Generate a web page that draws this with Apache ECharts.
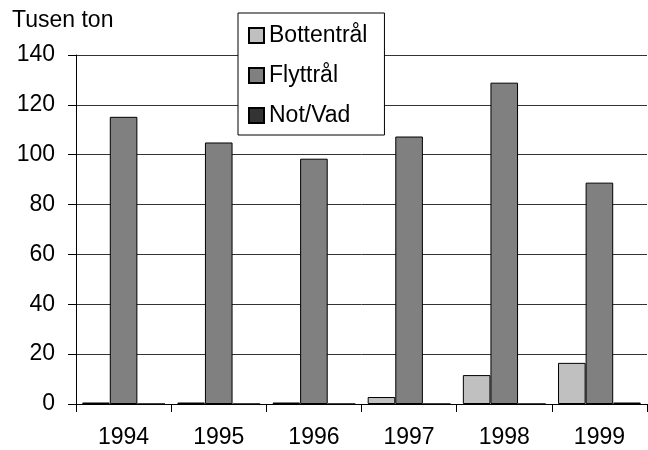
<!DOCTYPE html>
<html>
<head>
<meta charset="utf-8">
<script src="https://cdn.jsdelivr.net/npm/echarts@6/dist/echarts.min.js"></script>
<style>
  html, body { margin: 0; padding: 0; background: #fff; }
  #chart { width: 648px; height: 450px; }
</style>
</head>
<body>
<div id="chart"></div>
<script>
const years = ['1994', '1995', '1996', '1997', '1998', '1999'];
const bottentral = [0.6, 0.6, 0.6, 2.8, 11.6, 16.5];
const flyttral = [115.2, 104.9, 98.4, 107.3, 128.9, 88.8];
const notVad = [0, 0, 0, 0, 0, 0.6];

const font = 'Liberation Sans, Arial, sans-serif';

const chart = echarts.init(document.getElementById('chart'));

const barStyle = color => ({
  color: color,
  borderColor: '#000',
  borderWidth: 1
});

const option = {
  animation: false,
  textStyle: { fontFamily: font },
  title: {
    text: 'Tusen ton',
    left: 12,
    top: 9,
    padding: 0,
    textStyle: { fontSize: 23, fontWeight: 'normal', color: '#000', fontFamily: font }
  },
  legend: {
    orient: 'vertical',
    left: 238,
    top: 13,
    padding: [11, 17, 8, 10],
    itemGap: 17,
    itemWidth: 15,
    itemHeight: 15,
    icon: 'rect',
    backgroundColor: '#fff',
    borderColor: '#000',
    borderWidth: 1,
    borderRadius: 0,
    textStyle: { fontSize: 23, lineHeight: 23, color: '#000', fontFamily: font },
    data: ['Bottentrål', 'Flyttrål', 'Not/Vad']
  },
  grid: { left: 76, right: 1, top: 55, bottom: 46 },
  xAxis: {
    type: 'category',
    data: years,
    axisLine: { lineStyle: { color: '#000', width: 1 } },
    axisTick: { show: true, length: 8, lineStyle: { color: '#000' } },
    axisLabel: { fontSize: 23, color: '#000', margin: 22, fontFamily: font }
  },
  yAxis: {
    type: 'value',
    min: 0,
    max: 140,
    interval: 20,
    axisLine: { show: true, lineStyle: { color: '#000', width: 1 } },
    axisTick: { show: true, length: 8, lineStyle: { color: '#000' } },
    axisLabel: { fontSize: 23, color: '#000', margin: 21, fontFamily: font },
    splitLine: { show: true, lineStyle: { color: '#333', width: 1 } }
  },
  series: [
    {
      name: 'Bottentrål',
      type: 'bar',
      data: bottentral,
      barGap: '0%',
      barCategoryGap: '13%',
      itemStyle: barStyle('#c0c0c0')
    },
    {
      name: 'Flyttrål',
      type: 'bar',
      data: flyttral,
      itemStyle: barStyle('#808080')
    },
    {
      name: 'Not/Vad',
      type: 'bar',
      data: notVad,
      itemStyle: barStyle('#333333')
    }
  ]
};

chart.setOption(option);
</script>
</body>
</html>
